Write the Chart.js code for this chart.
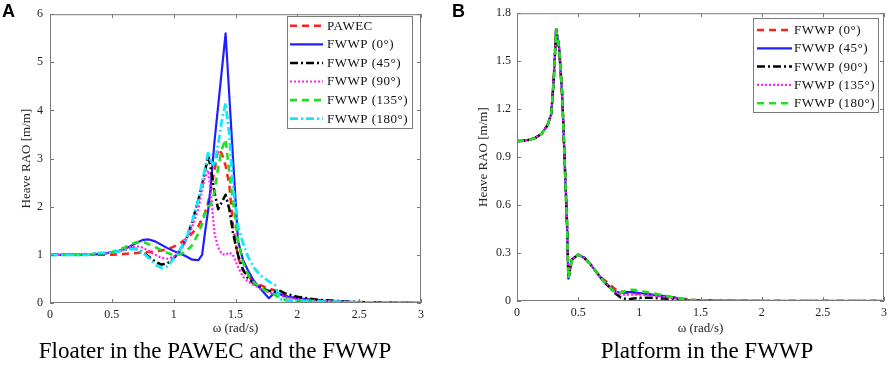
<!DOCTYPE html>
<html><head><meta charset="utf-8">
<script src="https://cdn.jsdelivr.net/npm/chart.js@4.4.0/dist/chart.umd.min.js"></script>
<style>
html,body{margin:0;padding:0;background:#fff;}
body{width:892px;height:369px;position:relative;overflow:hidden;font-family:"Liberation Serif","Times New Roman",serif;}
.wrap{position:absolute;top:0;width:446px;height:340px;}
.letter{position:absolute;font-family:"Liberation Sans",Arial,sans-serif;font-weight:bold;font-size:18px;line-height:20px;color:#000;}
.sub{position:absolute;top:339px;font-size:23px;line-height:23px;color:#000;white-space:nowrap;transform:translateX(-50%);}
</style></head>
<body>
<div class="wrap" style="left:0"><canvas id="cA" width="446" height="340"></canvas></div>
<div class="wrap" style="left:446px"><canvas id="cB" width="446" height="340"></canvas></div>
<div class="letter" style="left:2px;top:1px">A</div>
<div class="letter" style="left:452px;top:1px">B</div>
<div class="sub" style="left:215px">Floater in the PAWEC and the FWWP</div>
<div class="sub" style="left:707px">Platform in the FWWP</div>
<script>
// ---- data: panel A (floater) ----
const omegaA = [0,0.1,0.2,0.3, 0.37,0.45,0.5,0.55, 0.6,0.65,0.7,0.75, 0.8,0.85,0.9,0.95, 1.0,1.05,1.1,1.15, 1.2,1.23,1.25,1.28, 1.3,1.33,1.36,1.39, 1.42,1.45,1.48,1.52, 1.56,1.6,1.65,1.7, 1.77,1.82,1.86,1.9, 2.0,2.1,2.2,2.4, 2.6,2.8,3.0];
const pawec  = [1.0,1.0,1.0,1.0, 1.0,1.0,1.0,1.01, 1.02,1.03,1.04,1.05, 1.06,1.07,1.09,1.12, 1.17,1.24,1.33,1.45, 1.6,1.75,1.85,2.1, 2.35,2.75,3.2,3.1, 2.85,2.45,1.6,0.95, 0.68,0.55,0.45,0.37, 0.3,0.26,0.2,0.15, 0.1,0.07,0.05,0.025, 0.01,0.005,0];
const fA0    = [1.0,1.0,1.0,1.0, 1.01,1.03,1.05,1.08, 1.12,1.18,1.25,1.31, 1.32,1.28,1.21,1.14, 1.08,1.03,0.97,0.9, 0.89,1.0,1.4,1.95, 2.45,3.35,4.1,4.85, 5.6,4.3,3.0,1.3, 0.9,0.68,0.45,0.3, 0.1,0.22,0.18,0.14, 0.1,0.07,0.05,0.025, 0.01,0.005,0];
const fA45   = [1.0,1.0,1.0,1.0, 1.03,1.04,1.05,1.07, 1.1,1.13,1.12,1.06, 0.96,0.86,0.8,0.82, 0.93,1.08,1.32,1.68, 2.15,2.45,2.7,3.05, 2.8,2.3,1.95,2.1, 2.25,1.95,1.45,1.0, 0.7,0.52,0.4,0.32, 0.25,0.25,0.25,0.2, 0.13,0.09,0.06,0.03, 0.012,0.005,0];
const fA90   = [1.0,1.0,1.0,1.0, 1.03,1.04,1.05,1.08, 1.12,1.16,1.18,1.15, 1.08,1.0,0.94,0.92, 0.96,1.08,1.3,1.58, 1.95,2.35,2.6,2.75, 2.3,1.45,1.15,1.02, 1.0,1.05,1.0,0.75, 0.55,0.45,0.37,0.3, 0.22,0.18,0.15,0.12, 0.08,0.06,0.04,0.02, 0.01,0.004,0];
const fA135  = [1.0,1.0,1.0,1.0, 1.02,1.04,1.06,1.1, 1.15,1.22,1.26,1.27, 1.22,1.16,1.1,1.04, 1.0,1.01,1.07,1.2, 1.45,1.65,1.85,2.0, 2.05,2.3,2.82,3.2, 3.4,2.7,2.1,1.3, 0.85,0.6,0.42,0.32, 0.22,0.17,0.1,0.07, 0.05,0.04,0.03,0.015, 0.008,0.003,0];
const fA180  = [1.0,1.0,1.0,1.0, 1.04,1.04,1.05,1.07, 1.1,1.12,1.12,1.05, 0.93,0.8,0.73,0.76, 0.92,1.1,1.33,1.7, 2.15,2.5,2.75,3.15, 2.95,2.85,3.3,3.8, 4.15,3.5,2.4,1.6, 1.25,0.97,0.73,0.58, 0.45,0.37,0.08,0.05, 0.05,0.04,0.03,0.02, 0.01,0.005,0];
// ---- data: panel B (platform) ----
const omegaB = [0,0.05,0.1,0.15,0.2,0.25,0.28,0.3,0.32,0.345,0.37,0.39,0.41,0.42,0.45,0.5,0.55,0.6,0.65, 0.7,0.75,0.8,0.85,0.9,0.95,1.0,1.1,1.2,1.3,1.4,1.5,2.0,2.5,3.0];
const fB0    = [1.0,1.002,1.008,1.02,1.045,1.1,1.17,1.38,1.70,1.58,1.28,0.87,0.46,0.14,0.26,0.29,0.27,0.23,0.18, 0.14,0.11,0.075,0.06,0.05,0.05,0.045,0.04,0.03,0.02,0.01,0.003,0,0,0];
const fB45   = [1.0,1.002,1.008,1.02,1.045,1.1,1.17,1.38,1.70,1.58,1.28,0.87,0.46,0.14,0.26,0.29,0.27,0.23,0.18, 0.13,0.095,0.06,0.05,0.055,0.055,0.05,0.04,0.03,0.02,0.006,0.002,0,0,0];
const fB90   = [1.0,1.002,1.008,1.02,1.045,1.1,1.17,1.38,1.70,1.58,1.28,0.87,0.46,0.14,0.26,0.29,0.27,0.23,0.18, 0.13,0.09,0.05,0.02,0.01,0.015,0.02,0.02,0.015,0.01,0.003,0.001,0,0,0];
const fB135  = [1.0,1.002,1.008,1.02,1.045,1.1,1.17,1.38,1.70,1.58,1.28,0.87,0.46,0.14,0.26,0.29,0.27,0.23,0.18, 0.13,0.095,0.06,0.04,0.04,0.04,0.04,0.035,0.025,0.015,0.005,0.002,0,0,0];
const fB180  = [1.0,1.002,1.008,1.02,1.045,1.1,1.17,1.38,1.70,1.58,1.28,0.87,0.46,0.14,0.26,0.29,0.27,0.23,0.18, 0.13,0.09,0.055,0.05,0.07,0.07,0.065,0.05,0.035,0.02,0.008,0.003,0,0,0];
// ---- labels & ticks ----
const namesA = ['PAWEC','FWWP (0°)','FWWP (45°)','FWWP (90°)','FWWP (135°)','FWWP (180°)'];
const namesB = ['FWWP (0°)','FWWP (45°)','FWWP (90°)','FWWP (135°)','FWWP (180°)'];
const xTicks  = [0,0.5,1,1.5,2,2.5,3];
const yTicksA = [0,1,2,3,4,5,6];
const yTicksB = [0,0.3,0.6,0.9,1.2,1.5,1.8];

const FF = '"Liberation Serif","Times New Roman",serif';
const ST = {
  red:    {c:'#ff1f1f', d:[7,5], w:2.5},
  blue:   {c:'#1f1fff', d:[],    w:2.2},
  black:  {c:'#000000', d:[8,3,2,3], w:2.5},
  mag:    {c:'#ff1fff', d:[2,2], w:2.2},
  green:  {c:'#1fe01f', d:[7,5], w:2.6},
  cyan:   {c:'#14e6ff', d:[8,3,2,3], w:2.8}
};

function mkSets(omega, series, names, styles){
  const n = series.length;
  return series.map((arr,i)=>({
    label: names[i],
    data: omega.map((x,k)=>({x:x, y:arr[k]})),
    borderColor: styles[i].c, borderDash: styles[i].d, borderWidth: styles[i].w,
    pointRadius:0, fill:false, tension:0, order:n-i, borderCapStyle:'butt', borderJoinStyle:'round'
  }));
}

const frame = {id:'frame', afterDatasetsDraw(chart){
  const {ctx, chartArea:a, scales:{x,y}} = chart;
  ctx.save(); ctx.strokeStyle='#7a7a7a'; ctx.lineWidth=1; ctx.setLineDash([]);
  ctx.strokeRect(a.left+0.5, a.top+0.5, a.right-a.left-1, a.bottom-a.top-1);
  ctx.beginPath();
  x.ticks.forEach(t=>{const p=Math.round(x.getPixelForValue(t.value))+0.5;
    ctx.moveTo(p,a.bottom); ctx.lineTo(p,a.bottom-4); ctx.moveTo(p,a.top); ctx.lineTo(p,a.top+4);});
  y.ticks.forEach(t=>{const p=Math.round(y.getPixelForValue(t.value))+0.5;
    ctx.moveTo(a.left,p); ctx.lineTo(a.left+4,p); ctx.moveTo(a.right,p); ctx.lineTo(a.right-4,p);});
  ctx.stroke(); ctx.restore();
}};

const mleg = {id:'mleg', afterDraw(chart, args, o){
  const ctx = chart.ctx; ctx.save();
  const [x1,y1,x2,y2] = o.box;
  ctx.fillStyle='#fff'; ctx.fillRect(x1,y1,x2-x1,y2-y1);
  ctx.strokeStyle='#7a7a7a'; ctx.lineWidth=1; ctx.strokeRect(x1+0.5,y1+0.5,x2-x1,y2-y1);
  ctx.font = '13px '+FF; ctx.textBaseline='middle'; ctx.textAlign='left';
  try{ ctx.letterSpacing='0.5px'; }catch(e){}
  chart.data.datasets.forEach((d,i)=>{
    const yy = o.y0 + i*o.dy;
    ctx.strokeStyle=d.borderColor; ctx.lineWidth=d.borderWidth; ctx.setLineDash(d.borderDash||[]);
    ctx.beginPath(); ctx.moveTo(o.lx1,yy); ctx.lineTo(o.lx2,yy); ctx.stroke();
    ctx.setLineDash([]); ctx.fillStyle='#111'; ctx.fillText(d.label, o.tx, yy+0.5);
  });
  ctx.restore();
}};

function mkChart(id, omega, series, names, styles, yMax, yTicks, cfg){
  return new Chart(document.getElementById(id), {
    type:'line',
    data:{datasets: mkSets(omega, series, names, styles)},
    options:{
      responsive:false, animation:false, events:[],
      layout:{padding:cfg.pad},
      plugins:{legend:{display:false}, tooltip:{enabled:false}, mleg:cfg.leg},
      scales:{
        x:{type:'linear', min:0, max:3,
          afterBuildTicks:s=>{s.ticks = xTicks.map(v=>({value:v}));},
          afterFit:s=>{s.height=cfg.xh;},
          grid:{display:false, drawTicks:false}, border:{display:false},
          ticks:{padding:5, color:'#222', maxRotation:0, autoSkip:false, font:{family:FF,size:12}, callback:v=>String(v)},
          title:{display:true, text:'ω (rad/s)', color:'#222', font:{family:FF,size:13}, padding:{top:0,bottom:cfg.xtp}}},
        y:{type:'linear', min:0, max:yMax,
          afterBuildTicks:s=>{s.ticks = yTicks.map(v=>({value:v}));},
          afterFit:s=>{s.width=cfg.yw;},
          grid:{display:false, drawTicks:false}, border:{display:false},
          ticks:{padding:cfg.ytp, color:'#222', autoSkip:false, font:{family:FF,size:12}, callback:v=>String(v)},
          title:{display:true, text:'Heave RAO [m/m]', color:'#222', font:{family:FF,size:13}, padding:{top:cfg.ytt,bottom:0}}}
      }
    },
    plugins:[frame, mleg]
  });
}

mkChart('cA', omegaA, [pawec,fA0,fA45,fA90,fA135,fA180], namesA,
  [ST.red,ST.blue,ST.black,ST.mag,ST.green,ST.cyan], 6, yTicksA,
  {pad:{left:0,right:25,top:6,bottom:0}, xh:37, yw:50, ytp:7, ytt:19, xtp:4,
   leg:{box:[287,16,412,128], y0:25.7, dy:18.6, lx1:290, lx2:323, tx:327}});

mkChart('cB', omegaB, [fB0,fB45,fB90,fB135,fB180], namesB,
  [ST.red,ST.blue,ST.black,ST.mag,ST.green], 1.8, yTicksB,
  {pad:{left:0,right:4,top:8,bottom:0}, xh:39, yw:71, ytp:6, ytt:29.5, xtp:4,
   leg:{box:[307,18,432,112], y0:30, dy:18.3, lx1:311, lx2:346, tx:348}});
</script>
</body></html>
